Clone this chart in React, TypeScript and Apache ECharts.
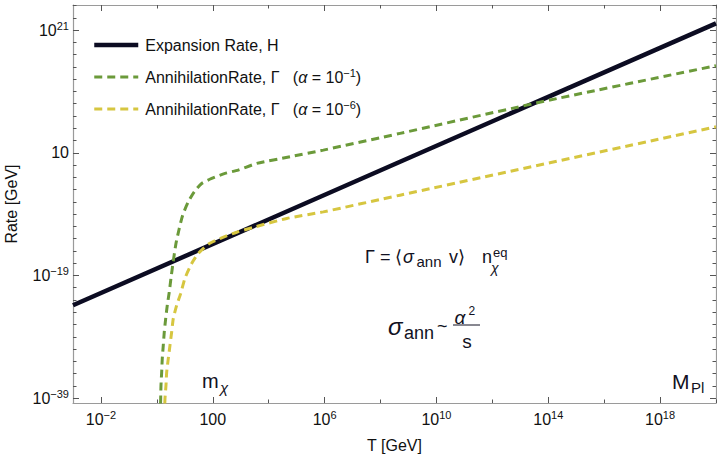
import React, { useEffect, useRef } from 'react';
import * as echarts from 'echarts';

const FONT = '"Liberation Sans", Arial, Helvetica, sans-serif';
const INK = '#111122';
const FRAME = '#9a9a9a';

// All values are log10 of the quantity: T [GeV] on x, Rate [GeV] on y
const hubbleLogT = [-3, 8.7, 20];
const hubbleLogRate = [-23.87, -0.47, 22.1];

const gammaA1LogT = [0.12, 0.136, 0.147, 0.172, 0.193, 0.229, 0.265, 0.315, 0.372, 0.444, 0.504, 0.587, 0.683, 0.801, 0.923, 1.123, 1.338, 1.603, 1.961, 2.437, 2.912, 3.571, 4.762, 5.954, 8.7, 14.06, 20];
const gammaA1LogRate = [-42, -39.1, -36.93, -34.76, -32.57, -30.4, -28.22, -26.04, -23.87, -21.69, -19.46, -16.68, -13.79, -11.34, -9.17, -7.0, -5.37, -4.0, -3.18, -2.36, -1.82, -0.73, 0.35, 1.44, 4.17, 9.6, 15.2];

const gammaA6LogT = [0.27, 0.29, 0.326, 0.351, 0.408, 0.469, 0.529, 0.587, 0.708, 0.851, 1.005, 1.245, 1.481, 1.839, 2.258, 2.855, 3.51, 4.644, 5.954, 8.7, 20];
const gammaA6LogRate = [-42, -39.1, -36.93, -34.76, -32.57, -30.4, -28.22, -26.04, -23.87, -21.96, -19.46, -17.06, -15.42, -13.91, -12.98, -11.95, -11.08, -9.71, -8.63, -5.91, 5.24];

const seriesNames = ['Expansion Rate, H', 'AnnihilationRate, Γ (α = 10^-1)', 'AnnihilationRate, Γ (α = 10^-6)'];
const legendRich = [
  'Expansion Rate, H',
  'AnnihilationRate, Γ   ({it|α} = 10{sup|−1})',
  'AnnihilationRate, Γ   ({it|α} = 10{sup|−6})',
];
const seriesColors = ['#0c0c22', '#6b9a3a', '#d6c640'];

const xTickExps = [-2, 0, 2, 4, 6, 8, 10, 12, 14, 16, 18, 20];
const xLabelExps = [-2, 2, 6, 10, 14, 18];
const yTickExps = [-39, -37, -35, -33, -31, -29, -27, -25, -23, -21, -19, -17, -15, -13, -11, -9, -7, -5, -3, -1, 1, 3, 5, 7, 9, 11, 13, 15, 17, 19, 21, 23, 25];
const yLabelExps = [-39, -19, 1, 21];

const X_MIN = -3;
const X_MAX = 20;
const Y_MIN = -39.8;
const Y_MAX = 25.1;

const zip = (a: number[], b: number[]) => a.map((v, i) => [v, b[i]]);

const powLabel = (e: number) => {
  if (e === 1) return '{b|10}';
  if (e === 2) return '{b|100}';
  const s = e < 0 ? '−' + -e : String(e);
  return '{b|10}{s|' + s + '}';
};

const labelRich = {
  b: { fontFamily: FONT, fontSize: 16, color: '#111', lineHeight: 20 },
  s: { fontFamily: FONT, fontSize: 11, color: '#111', verticalAlign: 'top', lineHeight: 11 },
};

function makeX(pos: 'bottom' | 'top', major: boolean, main: boolean) {
  return {
    type: 'value',
    position: pos,
    min: X_MIN,
    max: X_MAX,
    gridIndex: 0,
    name: main ? 'T [GeV]' : '',
    nameLocation: 'middle',
    nameGap: 34,
    nameTextStyle: { fontFamily: FONT, fontSize: 16, color: '#111' },
    axisLine: { show: !major, onZero: false, lineStyle: { color: FRAME, width: 1.2 } },
    axisTick: {
      show: true,
      inside: true,
      length: major ? 6 : 3.5,
      customValues: major ? xLabelExps : xTickExps,
      lineStyle: { color: '#555', width: 1 },
    },
    axisLabel: {
      show: main,
      customValues: xLabelExps,
      formatter: (v: number) => powLabel(v),
      rich: labelRich,
      margin: 6,
    },
    splitLine: { show: false },
  };
}

function makeY(pos: 'left' | 'right', major: boolean, main: boolean) {
  return {
    type: 'value',
    position: pos,
    min: Y_MIN,
    max: Y_MAX,
    gridIndex: 0,
    name: main ? 'Rate [GeV]' : '',
    nameLocation: 'middle',
    nameGap: 54,
    nameTextStyle: { fontFamily: FONT, fontSize: 16, color: '#111' },
    axisLine: { show: !major, onZero: false, lineStyle: { color: FRAME, width: 1.2 } },
    axisTick: {
      show: true,
      inside: true,
      length: major ? 6 : 3.5,
      customValues: major ? yLabelExps : yTickExps,
      lineStyle: { color: '#555', width: 1 },
    },
    axisLabel: {
      show: main,
      customValues: yLabelExps,
      formatter: (v: number) => powLabel(v),
      rich: labelRich,
      margin: 4,
    },
    splitLine: { show: false },
  };
}

const txt = (x: number, y: number, text: string, font: string, align = 'left') => ({
  type: 'text',
  x,
  y,
  style: { text, font, fill: INK, align, verticalAlign: 'middle' },
});

export default function App() {
  const ref = useRef<HTMLDivElement>(null);
  useEffect(() => {
    if (!ref.current) return;
    const chart = echarts.init(ref.current, undefined, { renderer: 'svg' });
    const option: any = {
      animation: false,
      grid: { left: 73, right: 1, top: 5, bottom: 54, containLabel: false, outerBoundsMode: 'none' },
      xAxis: [makeX('bottom', false, true), makeX('bottom', true, false), makeX('top', false, false), makeX('top', true, false)],
      yAxis: [makeY('left', false, true), makeY('left', true, false), makeY('right', false, false), makeY('right', true, false)],
      legend: {
        orient: 'vertical',
        left: 92,
        top: 35,
        padding: 0,
        itemWidth: 44,
        itemHeight: 14,
        itemGap: 12,
        data: seriesNames,
        selectedMode: false,
        itemStyle: { opacity: 0, borderWidth: 0 },
        lineStyle: { width: 'inherit', type: 'inherit' },
        formatter: (name: string) => legendRich[seriesNames.indexOf(name)],
        textStyle: {
          fontFamily: FONT,
          fontSize: 16,
          color: '#111',
          lineHeight: 20,
          padding: [0, 0, 0, 2],
          rich: {
            it: { fontFamily: FONT, fontSize: 16, fontStyle: 'italic', color: '#111', lineHeight: 20 },
            sup: { fontFamily: FONT, fontSize: 11, color: '#111', verticalAlign: 'top', lineHeight: 11 },
          },
        },
      },
      series: [
        {
          name: seriesNames[0],
          type: 'line',
          data: zip(hubbleLogT, hubbleLogRate),
          symbol: 'none',
          clip: true,
          itemStyle: { color: seriesColors[0] },
          lineStyle: { color: seriesColors[0], width: 4.5 },
          z: 2,
        },
        {
          name: seriesNames[1],
          type: 'line',
          data: zip(gammaA1LogT, gammaA1LogRate),
          symbol: 'none',
          clip: true,
          smooth: 0.2,
          itemStyle: { color: seriesColors[1] },
          lineStyle: { color: seriesColors[1], width: 3, type: [8, 5], cap: 'butt' },
          z: 3,
        },
        {
          name: seriesNames[2],
          type: 'line',
          data: zip(gammaA6LogT, gammaA6LogRate),
          symbol: 'none',
          clip: true,
          smooth: 0.2,
          itemStyle: { color: seriesColors[2] },
          lineStyle: { color: seriesColors[2], width: 3, type: [8, 5], cap: 'butt' },
          z: 3,
        },
      ],
      graphic: [
        // Γ = ⟨σ_ann v⟩ n_χ^eq
        txt(365, 257, 'Γ = ⟨', '18px ' + FONT),
        txt(403, 257, 'σ', 'italic 18px ' + FONT),
        txt(416.5, 261, 'ann', '15px ' + FONT),
        txt(449, 257, 'v⟩', '18px ' + FONT),
        txt(482, 257, 'n', '18px ' + FONT),
        txt(493, 252, 'eq', '13px ' + FONT),
        txt(491, 268, 'χ', 'italic 14px ' + FONT),
        // σ_ann ~ α² / s
        txt(388, 326, 'σ', 'italic 24px ' + FONT),
        txt(404, 333, 'ann', '18px ' + FONT),
        txt(437, 326, '~', '18px ' + FONT),
        txt(460, 317, 'α', 'italic 19px ' + FONT, 'center'),
        txt(468.5, 310.5, '2', '12px ' + FONT),
        { type: 'line', shape: { x1: 453, y1: 325, x2: 480, y2: 325 }, style: { stroke: INK, lineWidth: 1 } },
        txt(467, 341, 's', '19px ' + FONT, 'center'),
        // m_χ
        txt(202, 381, 'm', '20px ' + FONT),
        txt(220, 387, 'χ', 'italic 15px ' + FONT),
        // M_Pl
        txt(672, 381, 'M', '21px ' + FONT),
        txt(691, 387, 'Pl', '15px ' + FONT),
      ],
    };
    chart.setOption(option);
    return () => chart.dispose();
  }, []);
  return <div ref={ref} style={{ position: 'fixed', left: 0, top: 0, width: 717, height: 457, background: '#fff' }} />;
}
